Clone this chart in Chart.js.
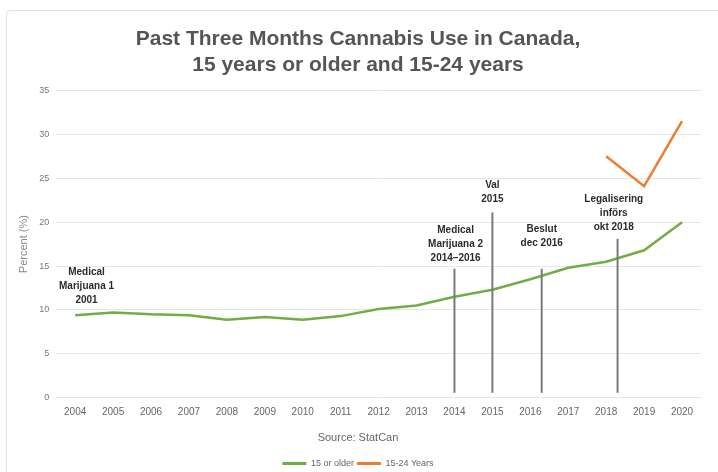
<!DOCTYPE html>
<html>
<head>
<meta charset="utf-8">
<script src="https://cdn.jsdelivr.net/npm/chart.js@4.4.1/dist/chart.umd.min.js"></script>
<style>
  html, body { margin: 0; padding: 0; background: #ffffff; }
  #wrap { position: relative; width: 718px; height: 472px; }
  #card { position: absolute; left: 6px; top: 10px; width: 718px; height: 470px; border: 1px solid #e2e2e2; border-radius: 4px; box-sizing: border-box; }
  canvas { position: absolute; left: 0; top: 0; }
</style>
</head>
<body>
<div id="wrap">
  <div id="card"></div>
  <canvas id="c" width="718" height="472"></canvas>
</div>
<script>
const years = ['2004','2005','2006','2007','2008','2009','2010','2011','2012','2013','2014','2015','2016','2017','2018','2019','2020'];
const olderValues = [9.4, 9.7, 9.5, 9.4, 8.9, 9.2, 8.9, 9.3, 10.1, 10.5, 11.5, 12.3, 13.5, 14.8, 15.5, 16.8, 20.0];
const youthValues = [null, null, null, null, null, null, null, null, null, null, null, null, null, null, 27.5, 24.1, 31.5];
const yTicks = [0, 5, 10, 15, 20, 25, 30, 35];

// events: year position, top of marker line (percent), label text lines, level of label's last line (percent)
const eventYears = [2014, 2015, 2016.3, 2018.3];
const eventTops = [14.7, 21.1, 14.7, 18.1];
const eventLabels = [
  ['Medical', 'Marijuana 2', '2014\u20132016'],
  ['Val', '2015'],
  ['Beslut', 'dec 2016'],
  ['Legalisering', 'införs', 'okt 2018']
];
const eventLabelYears = [2014.03, 2015, 2016.3, 2018.2];
const eventLabelLevels = [15.85, 22.6, 17.55, 19.4];
const firstEventLabel = ['Medical', 'Marijuana 1', '2001'];
const firstEventLabelYear = 2004.3;
const firstEventLabelLevel = 11.05;

const annotationPlugin = {
  id: 'events',
  afterDatasetsDraw(chart) {
    const ctx = chart.ctx;
    const xs = chart.scales.x, ys = chart.scales.y;
    const toX = yr => xs.getPixelForValue(yr - 2004);
    ctx.save();
    ctx.strokeStyle = '#7a7a7a';
    ctx.lineWidth = 2;
    const bottom = ys.getPixelForValue(0.57);
    eventYears.forEach((yr, i) => {
      const x = toX(yr);
      const top = ys.getPixelForValue(eventTops[i]);
      ctx.beginPath();
      ctx.moveTo(x, top);
      ctx.lineTo(x, bottom);
      ctx.stroke();
    });
    ctx.fillStyle = '#2b2b2b';
    ctx.font = 'bold 10px "Liberation Sans", Arial, sans-serif';
    ctx.textAlign = 'center';
    ctx.textBaseline = 'middle';
    const lh = 14;
    const drawLabel = (lines, x, lastY) => {
      const n = lines.length;
      lines.forEach((t, k) => {
        ctx.fillText(t, x, lastY - (n - 1 - k) * lh);
      });
    };
    eventLabels.forEach((lines, i) => {
      drawLabel(lines, toX(eventLabelYears[i]), ys.getPixelForValue(eventLabelLevels[i]));
    });
    drawLabel(firstEventLabel, toX(firstEventLabelYear), ys.getPixelForValue(firstEventLabelLevel));
    ctx.restore();
  }
};

const green = '#70ad47';
const orange = '#ed7d31';
const FONT = '"Liberation Sans", Arial, sans-serif';

new Chart(document.getElementById('c'), {
  type: 'line',
  data: {
    labels: years,
    datasets: [
      { label: '15 or older', data: olderValues, borderColor: green, backgroundColor: green, borderWidth: 2.5, pointRadius: 0, tension: 0 },
      { label: '15-24 Years', data: youthValues, borderColor: orange, backgroundColor: orange, borderWidth: 2.5, pointRadius: 0, tension: 0, spanGaps: false }
    ]
  },
  options: {
    responsive: false,
    animation: false,
    layout: { padding: { left: 15, right: 17, top: 0, bottom: -6 } },
    plugins: {
      title: {
        display: true,
        text: ['Past Three Months Cannabis Use in Canada,', '15 years or older and 15-24 years'],
        color: '#555555',
        font: { family: FONT, size: 21, weight: 'bold', lineHeight: 1.2 },
        padding: { top: 27, bottom: 13 }
      },
      subtitle: {
        display: true,
        position: 'bottom',
        weight: 500,
        text: 'Source: StatCan',
        color: '#666666',
        font: { family: FONT, size: 11 },
        padding: { top: 14, bottom: 11 }
      },
      legend: {
        position: 'bottom',
        labels: {
          color: '#666666',
          font: { family: FONT, size: 9 },
          boxWidth: 24,
          boxHeight: 3,
          padding: 3,
          generateLabels(chart) {
            return chart.data.datasets.map((d, i) => ({
              text: d.label, fillStyle: d.borderColor, strokeStyle: d.borderColor, lineWidth: 0,
              fontColor: '#666666', datasetIndex: i, hidden: false
            }));
          }
        }
      },
      tooltip: { enabled: false }
    },
    scales: {
      x: {
        offset: true,
        grid: { display: false },
        border: { display: false },
        ticks: { color: '#666666', font: { family: FONT, size: 10 }, padding: 0, maxRotation: 0, autoSkip: false }
      },
      y: {
        min: 0, max: 35,
        afterBuildTicks(scale) { scale.ticks = yTicks.map(v => ({ value: v })); },
        grid: { color: '#e6e6e6', lineWidth: 1, drawTicks: false },
        border: { display: false },
        ticks: { color: '#777777', font: { family: FONT, size: 9 }, padding: 7 },
        title: { display: true, text: 'Percent (%)', color: '#888888', font: { family: FONT, size: 11 }, padding: 2 }
      }
    }
  },
  plugins: [annotationPlugin]
});
</script>
</body>
</html>
